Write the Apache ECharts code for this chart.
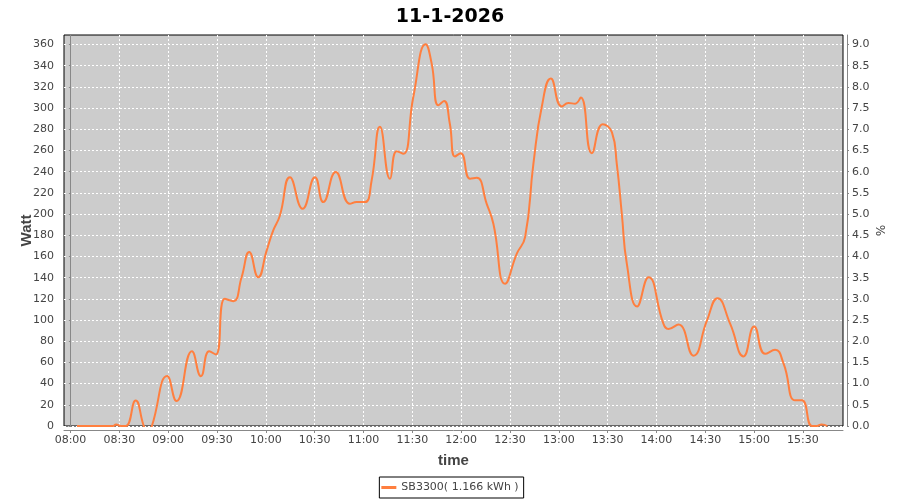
<!DOCTYPE html>
<html>
<head>
<meta charset="utf-8">
<script src="https://cdn.jsdelivr.net/npm/echarts@6/dist/echarts.min.js"></script>
<style>html,body{margin:0;padding:0;background:#fff}#c{width:900px;height:500px}</style>
</head>
<body>
<div id="c"></div>
<script>
// minutes after 08:00
const timeMinutes = [4, 15, 26, 28, 31, 34, 40, 45, 47.5, 50, 59.4, 65.1, 74.6, 80.1, 85.2, 89.3, 94.8, 100, 105.1, 109.8, 115.3, 120.5, 124.5, 128.6, 134.8, 142.6, 150.2, 155.3, 162.9, 171.7, 175.8, 180.9, 185, 190.1, 196.3, 200.4, 204.5, 210.6, 218.2, 221.9, 226, 229.5, 233, 236.2, 239.7, 245.5, 249.6, 255.7, 259.8, 267, 274.2, 279.3, 284.4, 289.5, 295.1, 301.8, 305.9, 310, 313.5, 320.3, 327, 332.6, 335.6, 338.7, 341.8, 348.1, 355.1, 364.3, 367.4, 373.5, 382.7, 391, 397.5, 405.3, 413.5, 420, 426.8, 432.9, 438.1, 445.2, 449.4, 455.5, 458.5, 461.5, 465];
const watts = [0, 0, 0, 1.5, 0, 0, 24, 0, -8, 0, 47.2, 23.5, 70.5, 47, 70.5, 67.5, 120, 117.8, 140.4, 164.3, 140.4, 165.5, 184.3, 198.4, 234.8, 205, 234.8, 211.3, 239.6, 209.7, 211.3, 211.3, 231.7, 282.3, 233.3, 259.4, 257, 310.5, 360.3, 342, 302.7, 306.7, 285.7, 254.4, 257.5, 233.3, 234.2, 209.7, 190.9, 134.3, 162.6, 178.4, 247.6, 301, 327.9, 301.6, 304.8, 304.2, 309.9, 257.5, 284.7, 277.4, 247.6, 200.3, 153, 112.8, 140.4, 96.4, 91.6, 95.7, 66.4, 99.5, 120.5, 96.4, 65.7, 93.8, 68.1, 71.9, 58.8, 24.2, 24.2, 0, 0, 1.5, 0];
const xTickMinutes = [0, 30, 60, 90, 120, 150, 180, 210, 240, 270, 300, 330, 360, 390, 420, 450];
const wattTicks = [0, 20, 40, 60, 80, 100, 120, 140, 160, 180, 200, 220, 240, 260, 280, 300, 320, 340, 360];
const pctTicks = [0, 0.5, 1, 1.5, 2, 2.5, 3, 3.5, 4, 4.5, 5, 5.5, 6, 6.5, 7, 7.5, 8, 8.5, 9];
const seriesName = 'SB3300( 1.166 kWh )';
const titleText = '11-1-2026';

function fmtTime(m) {
  const h = 8 + Math.floor(m / 60), mm = Math.round(m % 60);
  return (h < 10 ? '0' : '') + h + ':' + (mm < 10 ? '0' : '') + mm;
}

const FONT = 'DejaVu Sans';
const labelStyle = { color: '#444', fontFamily: FONT, fontSize: 11 };
const axisGray = '#888';
const lineColor = '#ff7f3f';

const chart = echarts.init(document.getElementById('c'), null, { renderer: 'canvas' });
chart.setOption({
  animation: false,
  backgroundColor: '#fff',
  title: {
    text: titleText, left: 'center', top: 3,
    textStyle: { fontFamily: FONT, fontWeight: 'bold', fontSize: 19, color: '#000' }
  },
  legend: {
    data: [{ name: seriesName, icon: 'rect' }], left: 'center', top: 477,
    borderColor: '#000', borderWidth: 1, borderRadius: 0,
    padding: [5, 5, 5, 2], itemWidth: 15, itemHeight: 3, itemGap: 4,
    itemStyle: { color: lineColor },
    textStyle: { color: '#444', fontFamily: FONT, fontSize: 11 }
  },
  grid: {
    show: true, left: 64, right: 57, top: 35, bottom: 74,
    backgroundColor: '#cccccc', borderColor: '#000', borderWidth: 1
  },
  xAxis: {
    type: 'value', min: -4, max: 474.6, offset: 4,
    name: 'time', nameLocation: 'middle', nameGap: 23, nameMoveOverlap: false,
    nameTextStyle: { fontFamily: 'Liberation Sans', fontWeight: 'bold', fontSize: 15, color: '#444' },
    axisLine: { show: true, onZero: false, lineStyle: { color: axisGray } },
    axisTick: { show: true, length: 3, customValues: xTickMinutes, lineStyle: { color: axisGray } },
    axisLabel: Object.assign({ customValues: xTickMinutes, margin: 5, formatter: fmtTime }, labelStyle),
    splitLine: { show: true, lineStyle: { color: '#fff', type: [2, 2], width: 1 } }
  },
  yAxis: [{
    type: 'value', min: 0, max: 369, offset: 4, position: 'left',
    name: 'Watt', nameLocation: 'middle', nameGap: 26, nameRotate: 90, nameMoveOverlap: false,
    nameTextStyle: { fontFamily: 'Liberation Sans', fontWeight: 'bold', fontSize: 15, color: '#444' },
    axisLine: { show: true, lineStyle: { color: axisGray } },
    axisTick: { show: true, length: 2, customValues: wattTicks, lineStyle: { color: axisGray } },
    axisLabel: Object.assign({ customValues: wattTicks, margin: 6 }, labelStyle),
    splitLine: { show: true, lineStyle: { color: '#fff', type: [2, 2], width: 1 } }
  }, {
    type: 'value', min: 0, max: 369 / 40, offset: 4, position: 'right',
    name: '%', nameLocation: 'middle', nameGap: 26, nameRotate: -90, nameMoveOverlap: false,
    nameTextStyle: { fontFamily: FONT, fontSize: 12, color: '#444' },
    axisLine: { show: true, lineStyle: { color: axisGray } },
    axisTick: { show: true, length: 2, customValues: pctTicks, lineStyle: { color: axisGray } },
    axisLabel: Object.assign({ customValues: pctTicks, margin: 5, formatter: v => v.toFixed(1) }, labelStyle),
    splitLine: { show: false }
  }],
  series: [{
    name: seriesName, type: 'line', yAxisIndex: 0,
    data: timeMinutes.map((t, i) => [t, watts[i]]),
    smooth: 0.5, symbol: 'none', clip: true,
    lineStyle: { color: lineColor, width: 2 },
    itemStyle: { color: lineColor }
  }]
});
</script>
</body>
</html>
